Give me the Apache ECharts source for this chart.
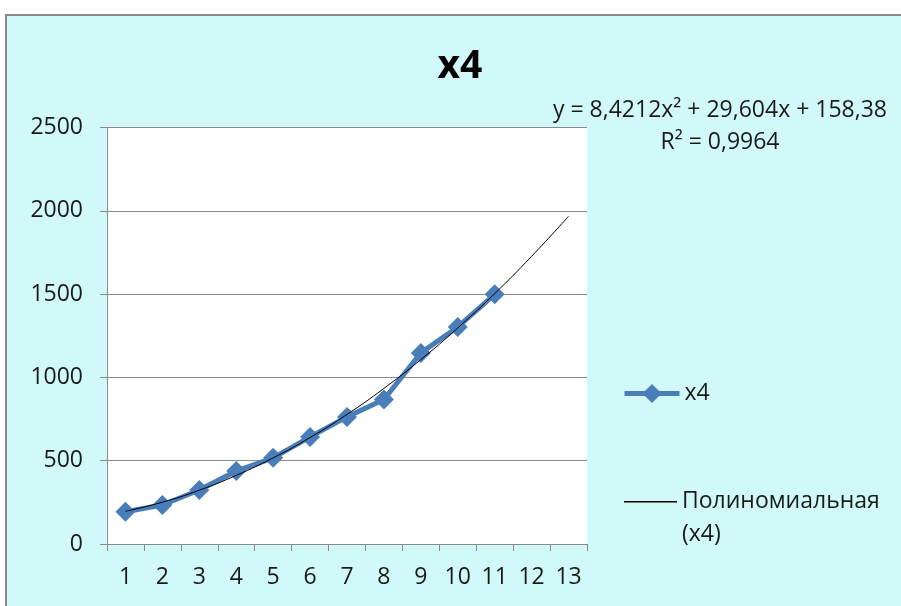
<!DOCTYPE html>
<html>
<head>
<meta charset="utf-8">
<script src="https://cdn.jsdelivr.net/npm/echarts@6/dist/echarts.min.js"></script>
<style>
html,body{margin:0;padding:0;background:#fff;}
#c{width:901px;height:606px;}
</style>
</head>
<body>
<div id="c"></div>
<script>
var categories = ['1','2','3','4','5','6','7','8','9','10','11','12','13'];
var x4Values = [194, 234, 324, 438, 517, 643, 763, 867, 1147, 1303, 1499];
var trendValues = [196, 251, 323, 412, 517, 639, 778, 934, 1107, 1297, 1503, 1727, 1967];
var yTicks = [0, 500, 1000, 1500, 2000, 2500];
var titleText = 'x4';
var equationText = 'y = 8,4212x² + 29,604x + 158,38';
var r2Text = 'R² = 0,9964';
var seriesName = 'x4';
var trendName = 'Полиномиальная (x4)';

var FONT = 'Open Sans';
var chart = echarts.init(document.getElementById('c'));
chart.setOption({
  animation: false,
  backgroundColor: '#ffffff',
  textStyle: {fontFamily: FONT},
  graphic: [
    {type: 'rect', z: -10, shape: {x: 6, y: 15, width: 920, height: 620},
     style: {fill: '#d2f9fa', stroke: '#8a8a8a', lineWidth: 2}},
    {type: 'rect', z: -5, shape: {x: 107, y: 127.5, width: 480, height: 416.5},
     style: {fill: '#ffffff'}},
    {type: 'text', x: 720, y: 110, style: {text: equationText, fill: '#1a1a1a', fontSize: 23, fontFamily: FONT, align: 'center', verticalAlign: 'middle'}},
    {type: 'text', x: 720, y: 142, style: {text: r2Text, fill: '#1a1a1a', fontSize: 23, fontFamily: FONT, align: 'center', verticalAlign: 'middle'}}
  ],
  title: {
    text: titleText, left: 455, top: 42, textAlign: 'center',
    textStyle: {fontSize: 39, fontWeight: 'bold', color: '#000', fontFamily: FONT}
  },
  legend: [
    {data: [seriesName], orient: 'vertical', left: 617, top: 377, itemWidth: 55, itemHeight: 24,
     lineStyle: {width: 5},
     textStyle: {fontSize: 23, color: '#1a1a1a', fontFamily: FONT}},
    {data: [{name: trendName, icon: 'path://M0,0H53V1.5H0Z M0,34H0.01V34H0Z'}],
     orient: 'vertical', left: 619, top: 480, itemWidth: 53, itemHeight: 34,
     itemStyle: {color: '#000'},
     formatter: function(n){ return 'Полиномиальная\n(x4)'; },
     textStyle: {fontSize: 23, color: '#1a1a1a', fontFamily: FONT, lineHeight: 33}}
  ],
  grid: {left: 107, right: 314, top: 127.5, bottom: 62, containLabel: false},
  xAxis: {
    type: 'category', data: categories, boundaryGap: true,
    axisLine: {show: true, lineStyle: {color: '#8a8a8a', width: 1}},
    axisTick: {show: true, alignWithLabel: false, length: 7, inside: false, lineStyle: {color: '#8a8a8a'}},
    axisLabel: {fontSize: 23, color: '#1a1a1a', margin: 22, fontFamily: FONT},
    splitLine: {show: false}
  },
  yAxis: {
    type: 'value', min: 0, max: 2500, interval: 500,
    axisLine: {show: true, lineStyle: {color: '#8a8a8a', width: 1}},
    axisTick: {show: true, length: 7, lineStyle: {color: '#8a8a8a'}},
    axisLabel: {fontSize: 23, color: '#1a1a1a', margin: 24, fontFamily: FONT,
      formatter: function(v){ return yTicks.indexOf(v) >= 0 ? String(v) : ''; }},
    splitLine: {show: true, lineStyle: {color: '#8a8a8a', width: 1}}
  },
  series: [
    {name: seriesName, type: 'line', data: x4Values, symbol: 'diamond', symbolSize: 20,
     itemStyle: {color: '#4a7ebb'}, lineStyle: {color: '#4a7ebb', width: 5}, z: 3},
    {name: trendName, type: 'line', data: trendValues, symbol: 'none', smooth: true,
     itemStyle: {color: '#000'}, lineStyle: {color: '#000', width: 1}, z: 4}
  ]
});
</script>
</body>
</html>
